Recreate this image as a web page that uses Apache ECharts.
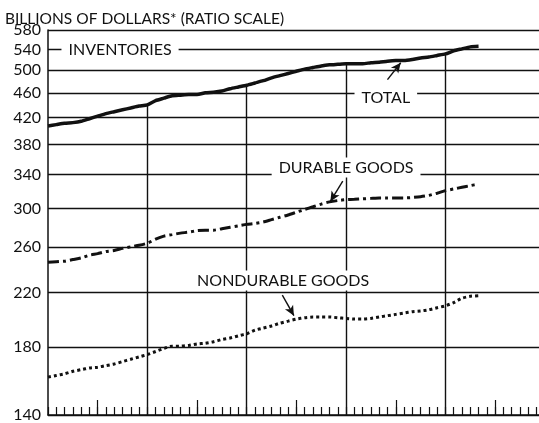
<!DOCTYPE html>
<html>
<head>
<meta charset="utf-8">
<script src="https://cdn.jsdelivr.net/npm/echarts@6/dist/echarts.min.js"></script>
<style>
  html, body { margin: 0; padding: 0; background: #fff; }
  #chart { width: 539px; height: 423px; }
</style>
</head>
<body>
<div id="chart"></div>
<script>
// monthly values, billions of dollars, month 0 = first January on the chart
var totalInv = [407, 409, 411, 412, 414, 418, 422, 426, 429, 432, 435, 438,
  440, 447, 451, 455, 456, 457, 457, 460, 461, 463, 467, 470,
  473, 477, 481, 486, 490, 494, 498, 502, 505, 508, 510, 511,
  512, 512, 512, 514, 515, 517, 518, 518, 520, 523, 525, 528,
  531, 537, 541, 545, 546];
var durableInv = [246, 246.5, 247, 248.5, 250, 252.5, 254, 256, 257, 259, 260.5, 262,
  264, 268, 271, 272.5, 274, 275, 276.5, 277, 277, 278.5, 280, 281.5,
  283, 284, 285.5, 288, 290.5, 293, 296, 299, 302, 305, 307.5, 309,
  310, 310.5, 311, 311.5, 312, 312, 312, 312, 312.5, 313.5, 315, 317.5,
  320.5, 322.5, 324.5, 326.5, 328.5];
var nondurableInv = [161, 162, 163, 164.5, 165.5, 166.5, 167, 168, 169, 170.5, 172, 173.5,
  175, 177, 179, 180.5, 180.5, 181, 182, 182.5, 183.5, 185, 186, 187.5,
  189, 191.5, 193, 194.5, 196.5, 198, 199.5, 200.5, 201, 201, 201, 200.5,
  200, 199.5, 199.5, 200, 201, 202, 203, 204, 205, 205.5, 206.5, 208,
  209.5, 212, 215.5, 217, 217.5];

var yTickLabels = [140, 180, 220, 260, 300, 340, 380, 420, 460, 500, 540, 580];
var yearMarks = [12, 24, 36, 48];
var midYearTicks = [6, 18, 30, 42, 54];
var monthTicks = [];
for (var m = 0; m < 60; m++) monthTicks.push(m);

// ratio scale: plot the log of each value
var ln = Math.log;
function toPts(arr) {
  return arr.map(function (v, i) { return [i, ln(v)]; });
}

var FONT = 'Lato';
var INK = '#111';

var chart = echarts.init(document.getElementById('chart'), null, { renderer: 'canvas' });

// year lines run from the floor up to the total curve
var yearLines = yearMarks.map(function (m) {
  return [
    { coord: [m, ln(140)], symbol: 'none' },
    { coord: [m, ln(totalInv[m])], symbol: 'none' }
  ];
});

// label arrows (tail, head) in months / billions
var arrows = [
  [[41.0, 483], [42.6, 514]],
  [[35.6, 332], [34.1, 308]],
  [[28.3, 218], [29.7, 202]]
].map(function (a) {
  return [
    { coord: [a[0][0], ln(a[0][1])], symbol: 'none' },
    { coord: [a[1][0], ln(a[1][1])], symbol: 'arrow', symbolSize: [7, 10] }
  ];
});

var option = {
  animation: false,
  backgroundColor: '#fff',
  title: {
    text: 'BILLIONS OF DOLLARS* (RATIO SCALE)',
    left: 0,
    top: 6,
    textStyle: { fontFamily: FONT, fontSize: 15.5, fontWeight: 'normal', color: INK }
  },
  grid: { left: 48, right: 0, top: 30, bottom: 5 },
  xAxis: [
    {
      type: 'value',
      min: 0,
      max: 59.3,
      position: 'bottom',
      axisLine: { show: true, lineStyle: { color: INK, width: 1.5 } },
      axisTick: { show: true, inside: true, length: 8, customValues: monthTicks,
        lineStyle: { color: INK, width: 1.2 } },
      axisLabel: { show: false },
      splitLine: { show: false }
    },
    {
      type: 'value',
      min: 0,
      max: 59.3,
      position: 'bottom',
      axisLine: { show: false },
      axisTick: { show: true, inside: true, length: 15, customValues: midYearTicks,
        lineStyle: { color: INK, width: 1.2 } },
      axisLabel: { show: false },
      splitLine: { show: false }
    }
  ],
  yAxis: {
    type: 'value',
    min: ln(140),
    max: ln(580),
    axisLine: { show: true, lineStyle: { color: INK, width: 1.5 } },
    axisTick: { show: false, customValues: yTickLabels.map(ln) },
    axisLabel: {
      customValues: yTickLabels.map(ln),
      margin: 7,
      fontFamily: FONT,
      fontSize: 16,
      color: INK,
      formatter: function (v) { return String(Math.round(Math.exp(v))); }
    },
    splitLine: { show: true, lineStyle: { color: INK, width: 1.4 } }
  },
  series: [
    {
      name: 'Total',
      type: 'line',
      data: toPts(totalInv),
      showSymbol: false,
      smooth: 0.2,
      lineStyle: { color: INK, width: 3.5 },
      z: 4,
      markLine: {
        silent: true,
        symbol: 'none',
        label: { show: false },
        lineStyle: { color: INK, width: 1.4, type: 'solid' },
        data: yearLines.concat(arrows)
      }
    },
    {
      name: 'Durable goods',
      type: 'line',
      data: toPts(durableInv),
      showSymbol: false,
      smooth: 0.2,
      lineStyle: { color: INK, width: 3, type: [11, 4, 3, 4] },
      z: 4
    },
    {
      name: 'Nondurable goods',
      type: 'line',
      data: toPts(nondurableInv),
      showSymbol: false,
      smooth: 0.2,
      lineStyle: { color: INK, width: 3, type: [3, 3] },
      z: 4
    }
  ]
};
chart.setOption(option);

// text labels placed at data positions (months, billions)
var labels = [
  { text: 'INVENTORIES', at: [8.7, 540] },
  { text: 'TOTAL', at: [40.8, 452] },
  { text: 'DURABLE GOODS', at: [36.0, 349] },
  { text: 'NONDURABLE GOODS', at: [28.4, 230] }
];
chart.setOption({
  graphic: labels.map(function (l) {
    var p = chart.convertToPixel({ gridIndex: 0 }, [l.at[0], ln(l.at[1])]);
    return {
      type: 'text',
      x: p[0],
      y: p[1],
      z: 100,
      style: {
        text: l.text,
        fontFamily: FONT,
        fontSize: 16,
        fill: INK,
        align: 'center',
        verticalAlign: 'middle',
        backgroundColor: '#fff',
        padding: [2, 7]
      }
    };
  })
});
</script>
</body>
</html>
